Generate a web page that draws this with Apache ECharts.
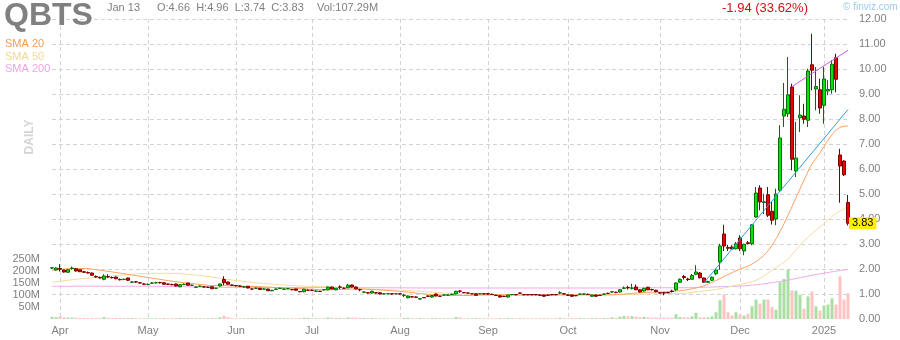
<!DOCTYPE html>
<html><head><meta charset="utf-8">
<script src="https://cdn.jsdelivr.net/npm/echarts@6/dist/echarts.min.js"></script>
<style>html,body{margin:0;padding:0;background:#fff}#c{width:900px;height:340px}</style>
</head><body><div id="c"></div>
<script>
// ---- trading days (categories) ----
const daysMar24=[27,28];
const daysApr24=[1,2,3,4,5,8,9,10,11,12,15,16,17,18,19,22,23,24,25,26,29,30];
const daysMay24=[1,2,3,6,7,8,9,10,13,14,15,16,17,20,21,22,23,24,28,29,30,31];
const daysJun24=[3,4,5,6,7,10,11,12,13,14,17,18,20,21,24,25,26,27,28];
const daysJul24=[1,2,3,5,8,9,10,11,12,15,16,17,18,19,22,23,24,25,26,29,30,31];
const daysAug24=[1,2,5,6,7,8,9,12,13,14,15,16,19,20,21,22,23,26,27,28,29,30];
const daysSep24=[3,4,5,6,9,10,11,12,13,16,17,18,19,20,23,24,25,26,27,30];
const daysOct24=[1,2,3,4,7,8,9,10,11,14,15,16,17,18,21,22,23,24,25,28,29,30,31];
const daysNov24=[1,4,5,6,7,8,11,12,13,14,15,18,19,20,21,22,25,26,27,29];
const daysDec24=[2,3,4,5,6,9,10,11,12,13,16,17,18,19,20,23,24,26,27,30,31];
const daysJan25=[2,3,6,7,8,10,13];
const tickLabels=['Apr','May','Jun','Jul','Aug','Sep','Oct','Nov','Dec','2025'];

// ---- prices ----
const open=[
2.04,1.96,2.02,1.96,1.87,2.02,2.01,1.97,1.89,1.86,
1.84,1.70,1.66,1.59,1.69,1.66,1.68,1.58,1.58,1.64,
1.47,1.49,1.45,1.40,1.38,1.43,1.45,1.46,1.45,1.40,
1.38,1.40,1.29,1.38,1.44,1.35,1.27,1.31,1.29,1.27,
1.29,1.23,1.32,1.58,1.48,1.36,1.34,1.32,1.28,1.31,
1.20,1.23,1.23,1.20,1.20,1.13,1.19,1.22,1.19,1.21,
1.18,1.20,1.10,1.09,1.15,1.15,1.11,1.11,1.17,1.17,
1.28,1.17,1.28,1.23,1.25,1.36,1.28,1.18,1.07,1.05,
1.04,1.05,1.05,1.01,1.01,1.01,1.01,1.01,0.94,0.85,
0.89,0.88,0.80,0.86,0.92,0.88,1.00,0.91,0.96,0.96,
0.98,1.00,1.12,1.06,1.04,1.01,1.01,1.01,1.01,1.01,
0.99,0.95,0.93,0.91,0.88,0.98,0.98,1.04,0.98,0.98,
0.98,0.98,0.96,0.96,0.96,0.98,0.98,1.04,1.01,0.96,
0.96,0.94,0.99,1.00,0.99,0.91,0.96,0.95,0.99,1.03,
1.08,1.07,1.08,1.23,1.26,1.23,1.28,1.17,1.12,1.27,
1.18,1.15,1.05,1.05,1.06,1.12,1.17,1.47,1.70,1.60,
1.59,1.79,1.84,1.64,1.47,1.55,1.81,2.28,3.40,2.86,
2.88,2.81,3.24,2.72,3.05,3.01,4.08,5.24,4.66,4.97,
4.31,4.00,5.15,8.12,8.21,9.28,5.92,8.05,8.12,7.95,
10.17,9.20,9.17,8.55,9.12,9.17,10.45,6.56,6.32,4.66];
const high=[
2.08,2.06,2.19,1.98,1.99,2.10,2.04,1.99,1.92,1.90,
1.86,1.74,1.70,1.79,1.79,1.70,1.70,1.62,1.62,1.66,
1.52,1.52,1.48,1.43,1.42,1.47,1.49,1.49,1.47,1.42,
1.41,1.42,1.39,1.42,1.46,1.38,1.31,1.34,1.31,1.30,
1.31,1.25,1.42,1.71,1.50,1.38,1.36,1.35,1.31,1.32,
1.23,1.26,1.24,1.23,1.21,1.16,1.22,1.25,1.22,1.24,
1.20,1.21,1.12,1.21,1.18,1.18,1.14,1.13,1.20,1.30,
1.30,1.24,1.35,1.26,1.41,1.38,1.30,1.21,1.10,1.07,
1.13,1.07,1.06,1.03,1.03,1.03,1.03,1.03,1.01,0.94,
0.91,0.90,0.83,0.88,0.94,0.96,1.02,0.93,0.98,0.98,
1.01,1.13,1.15,1.08,1.06,1.03,1.02,1.03,1.03,1.02,
1.01,0.97,0.94,0.93,0.97,1.00,1.00,1.06,1.00,1.00,
1.00,1.00,0.98,0.97,0.98,1.00,1.00,1.11,1.03,0.98,
0.97,0.96,1.02,1.02,1.01,0.97,0.97,0.97,1.02,1.05,
1.12,1.09,1.19,1.30,1.33,1.41,1.38,1.19,1.25,1.29,
1.21,1.17,1.08,1.08,1.09,1.17,1.47,1.62,1.76,1.65,
1.80,2.15,1.88,1.66,1.53,1.70,2.01,3.01,3.77,2.96,
2.95,3.08,3.35,3.01,3.12,3.80,5.28,5.35,5.01,5.28,
4.68,5.21,7.75,9.44,10.48,9.41,7.88,8.95,8.61,10.01,
11.41,10.08,9.61,10.08,9.55,10.35,10.61,6.81,6.35,4.96];
const low=[
2.00,1.94,1.90,1.86,1.85,1.97,1.90,1.88,1.84,1.82,
1.73,1.65,1.62,1.55,1.64,1.62,1.59,1.54,1.55,1.53,
1.44,1.45,1.41,1.36,1.35,1.40,1.42,1.42,1.37,1.36,
1.35,1.30,1.27,1.36,1.34,1.32,1.25,1.28,1.26,1.24,
1.20,1.20,1.30,1.35,1.37,1.32,1.30,1.30,1.26,1.23,
1.18,1.21,1.16,1.18,1.12,1.11,1.17,1.20,1.17,1.19,
1.15,1.14,1.07,1.07,1.12,1.12,1.09,1.08,1.14,1.15,
1.19,1.15,1.20,1.21,1.23,1.26,1.19,1.11,1.05,1.02,
1.02,1.02,0.98,0.98,0.99,0.98,0.99,0.98,0.88,0.83,
0.86,0.85,0.78,0.84,0.89,0.86,0.91,0.89,0.94,0.94,
0.96,0.98,1.05,1.03,1.02,0.99,0.93,0.99,0.99,0.97,
0.96,0.92,0.86,0.88,0.86,0.95,0.95,1.00,0.95,0.95,
0.95,0.95,0.93,0.89,0.93,0.95,0.95,0.99,0.98,0.93,
0.89,0.91,0.97,0.97,0.96,0.89,0.89,0.92,0.97,1.00,
1.05,1.03,1.06,1.20,1.18,1.18,1.15,1.06,1.10,1.15,
1.14,1.07,1.02,0.95,1.03,1.06,1.12,1.45,1.58,1.52,
1.57,1.75,1.62,1.44,1.45,1.52,1.75,1.97,2.72,2.72,
2.76,2.78,2.72,2.55,2.98,2.95,4.05,4.35,4.20,4.08,
3.78,3.75,5.08,7.68,8.08,5.95,5.68,7.48,7.81,7.68,
9.15,8.35,8.21,7.81,8.95,9.01,9.07,4.65,5.72,3.74];
const close=[
2.05,2.04,1.99,1.88,1.97,2.04,1.92,1.89,1.87,1.84,
1.75,1.68,1.64,1.72,1.68,1.65,1.61,1.57,1.59,1.55,
1.48,1.48,1.44,1.39,1.39,1.44,1.45,1.45,1.39,1.39,
1.37,1.32,1.37,1.39,1.35,1.35,1.28,1.31,1.28,1.27,
1.21,1.23,1.40,1.45,1.39,1.35,1.33,1.31,1.29,1.24,
1.20,1.23,1.18,1.20,1.13,1.15,1.20,1.23,1.20,1.21,
1.17,1.15,1.09,1.19,1.15,1.14,1.12,1.10,1.17,1.28,
1.20,1.23,1.27,1.23,1.35,1.28,1.20,1.17,1.08,1.04,
1.11,1.04,1.00,1.01,1.01,1.00,1.01,1.00,0.95,0.92,
0.88,0.87,0.81,0.85,0.91,0.94,0.92,0.91,0.96,0.96,
0.99,1.11,1.11,1.05,1.04,1.01,0.95,1.01,1.00,1.00,
0.98,0.94,0.88,0.90,0.96,0.98,0.97,1.03,0.97,0.97,
0.97,0.97,0.95,0.91,0.95,0.97,0.97,1.05,1.00,0.95,
0.91,0.93,1.00,1.00,0.98,0.96,0.91,0.94,1.00,1.02,
1.09,1.06,1.17,1.24,1.25,1.24,1.17,1.08,1.23,1.17,
1.17,1.09,1.04,1.04,1.05,1.10,1.44,1.59,1.66,1.58,
1.74,1.88,1.65,1.47,1.50,1.67,1.96,2.92,2.92,2.83,
2.80,3.01,2.81,2.99,3.02,3.77,5.04,4.68,4.69,4.15,
3.95,5.00,7.24,8.39,8.97,6.39,6.44,8.16,7.99,9.92,
9.95,9.30,8.44,9.60,9.18,10.19,9.59,6.12,5.77,3.83];
// ---- volume, millions ----
const volume=[
9,8,12,7,6,6,5,5,4,4,
5,4,4,8,5,4,4,4,3,4,
4,3,3,3,3,3,3,3,4,3,
3,4,4,3,4,3,3,3,3,3,
4,3,7,14,7,4,3,3,3,4,
3,3,3,3,4,3,3,3,3,3,
3,3,4,5,5,3,3,3,3,6,
5,4,5,3,6,6,5,4,4,3,
4,3,3,3,2,2,2,2,4,5,
3,3,4,3,3,4,4,3,3,3,
3,8,7,3,3,3,4,3,3,3,
3,3,4,3,4,3,3,4,3,3,
3,3,3,4,3,3,3,5,3,3,
4,3,4,3,3,4,4,3,4,4,
7,5,10,12,11,12,10,8,9,7,
5,6,5,6,5,5,20,8,7,7,
11,26,7,7,7,11,28,78,101,28,
14,28,19,14,22,53,81,64,81,81,
50,39,153,167,206,119,118,101,42,94,
115,53,35,56,60,86,60,178,81,107];
// ---- moving averages: [day index, value] ----
const sma20=[[0,1.95],[4,2.01],[8,2.02],[12,1.95],[16,1.86],[20,1.76],[24,1.66],[28,1.56],[32,1.47],[36,1.40],[40,1.34],[44,1.33],[48,1.31],[52,1.29],[56,1.26],[60,1.23],[64,1.20],[68,1.17],[72,1.18],[76,1.20],[80,1.18],[84,1.14],[88,1.09],[92,1.02],[96,0.97],[100,0.94],[104,0.94],[108,0.96],[112,0.97],[116,0.96],[120,0.96],[124,0.96],[128,0.97],[132,0.97],[136,0.96],[140,0.97],[144,1.01],[148,1.06],[151,1.08],[155,1.10],[159,1.18],[163,1.33],[167,1.62],[171,1.93],[174,2.12],[176,2.30],[178,2.55],[180,2.95],[182,3.50],[184,4.15],[186,4.85],[188,5.55],[190,6.20],[192,6.65],[194,7.15],[196,7.55],[198,7.71],[199,7.72]];
const sma50=[[0,1.47],[5,1.57],[10,1.65],[15,1.72],[20,1.79],[25,1.83],[30,1.83],[35,1.77],[40,1.68],[45,1.56],[50,1.47],[54,1.41],[58,1.36],[62,1.32],[66,1.30],[70,1.28],[74,1.26],[78,1.21],[84,1.17],[92,1.11],[100,1.02],[108,0.99],[116,0.96],[122,0.96],[128,0.96],[134,0.96],[140,0.97],[146,0.99],[151,1.01],[155,1.02],[159,1.04],[163,1.12],[167,1.21],[171,1.35],[176,1.55],[180,1.95],[184,2.41],[188,3.12],[192,3.68],[196,4.22],[199,4.48]];
const sma200=[[0,1.31],[20,1.31],[30,1.30],[40,1.27],[60,1.26],[80,1.25],[100,1.24],[120,1.24],[140,1.24],[150,1.25],[157,1.25],[165,1.28],[174,1.34],[182,1.50],[186,1.62],[190,1.75],[194,1.86],[199,1.99]];
const trendBlue=[[163,1.45],[199,8.38]];
const trendMagenta=[[185,9.30],[199,10.75]];

// ---- build ----
const monthList=[['2024-03',daysMar24],['2024-04',daysApr24],['2024-05',daysMay24],['2024-06',daysJun24],['2024-07',daysJul24],['2024-08',daysAug24],['2024-09',daysSep24],['2024-10',daysOct24],['2024-11',daysNov24],['2024-12',daysDec24],['2025-01',daysJan25]];
const cats=[]; const labelAt={};
monthList.forEach(([m,days],mi)=>{
  days.forEach((d,di)=>{
    if(di===0 && mi>0) labelAt[cats.length]=tickLabels[mi-1];
    cats.push(m+'-'+String(d).padStart(2,'0'));
  });
});
const ohlc=cats.map((_,i)=>[open[i],close[i],low[i],high[i]]);
const volData=cats.map((_,i)=>({value:volume[i],itemStyle:{color: close[i]>=open[i]?'#a9dfa3':'#ffc3c3'}}));
const isTick=(idx)=>labelAt[idx]!==undefined;
const grid='#d3d3d3';
const FF='"Liberation Sans", Arial, sans-serif';

const chart=echarts.init(document.getElementById('c'),null,{renderer:'canvas'});
chart.setOption({
  animation:false,
  grid:{left:52,right:52,top:19,bottom:21},
  xAxis:{type:'category',data:cats,boundaryGap:false,
    axisLine:{show:false},axisTick:{show:false},
    axisLabel:{interval:(i)=>isTick(i),formatter:(v,i)=>labelAt[i]||'',color:'#808080',fontSize:11,fontFamily:FF,margin:6},
    splitLine:{show:true,interval:(i)=>isTick(i),lineStyle:{color:grid,type:[4,3],width:1}}},
  yAxis:[
    {type:'value',position:'right',min:0,max:12,interval:1,
     axisLine:{show:false},axisTick:{show:false},
     axisLabel:{formatter:(v)=>v.toFixed(2),color:'#808080',fontSize:11,fontFamily:FF,margin:11},
     splitLine:{show:true,showMinLine:false,lineStyle:{color:grid,type:[4,3],width:1}}},
    {type:'value',position:'left',min:0,max:1250,interval:50,
     axisLine:{show:false},axisTick:{show:false},splitLine:{show:false},
     axisLabel:{formatter:(v)=>(v>0&&v<=250)?v+'M':'',color:'#808080',fontSize:11,fontFamily:FF,margin:12}}
  ],
  series:[
    {type:'bar',yAxisIndex:1,data:volData,barWidth:3,clip:false,z:1},
    {type:'line',data:sma200,smooth:0.4,showSymbol:false,lineStyle:{color:'#f0a8ea',width:1},z:2},
    {type:'line',data:sma50,smooth:0.4,showSymbol:false,lineStyle:{color:'#f3dc9c',width:1},z:2},
    {type:'line',data:sma20,smooth:0.4,showSymbol:false,lineStyle:{color:'#ffa060',width:1},z:2},
    {type:'candlestick',data:ohlc,barWidth:3,clip:false,z:3,
     itemStyle:{color:'#00e600',color0:'#ee0000',borderColor:'#006e00',borderColor0:'#7a0000',borderWidth:1}},
    {type:'line',data:trendBlue,showSymbol:false,lineStyle:{color:'#2f9fe0',width:1},z:4},
    {type:'line',data:trendMagenta,showSymbol:false,lineStyle:{color:'#c860d8',width:1},z:4}
  ]
});
const last=cats.length-1;
const yLast=chart.convertToPixel({yAxisIndex:0},close[last]);
const xRight=chart.convertToPixel({xAxisIndex:0},last)+1;
chart.setOption({graphic:[
  {type:'text',left:4,top:0,style:{text:'QBTS',font:'bold 32px '+FF,fill:'#808080'}},
  {type:'text',left:107,top:2,style:{text:'Jan 13',font:'11px '+FF,fill:'#808080'}},
  {type:'text',left:157,top:2,style:{text:'O:4.66  H:4.96  L:3.74  C:3.83',font:'11px '+FF,fill:'#808080'}},
  {type:'text',left:317,top:2,style:{text:'Vol:107.29M',font:'11px '+FF,fill:'#808080'}},
  {type:'text',left:722,top:2,style:{text:'-1.94 (33.62%)',font:'13px '+FF,fill:'#d41111'}},
  {type:'text',left:843,top:2,style:{text:'\u00a9 finviz.com',font:'10px '+FF,fill:'#9ccbe8'}},
  {type:'text',left:5,top:38,style:{text:'SMA 20',font:'11px '+FF,fill:'#ff9a4a'}},
  {type:'text',left:5,top:51,style:{text:'SMA 50',font:'11px '+FF,fill:'#f2d894'}},
  {type:'text',left:5,top:63,style:{text:'SMA 200',font:'11px '+FF,fill:'#f4a2e6'}},
  {type:'text',x:30,y:137,rotation:Math.PI/2,style:{text:'DAILY',font:'bold 12px '+FF,fill:'#d4d4d4',textAlign:'center',textVerticalAlign:'middle'}},
  {type:'text',x:xRight,y:yLast,z:10,style:{text:close[last].toFixed(2),font:'11px '+FF,fill:'#000',backgroundColor:'#ffee00',padding:[1,3,0,3],textAlign:'left',textVerticalAlign:'middle'}}
]});
</script></body></html>
